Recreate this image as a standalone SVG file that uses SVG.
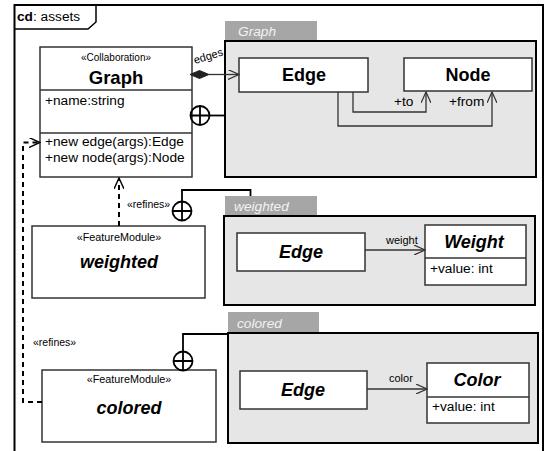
<svg xmlns="http://www.w3.org/2000/svg" width="549" height="451" viewBox="0 0 549 451">
<defs>
<style>
text{font-family:"Liberation Sans",Arial,sans-serif;fill:#000}
.box{fill:#fff;stroke:#333;stroke-width:1.5}
.pkg{fill:#e6e6e6;stroke:#000;stroke-width:2}
.tab{fill:#a6a6a6;stroke:none}
.tabt{font-size:13.7px;font-style:italic;fill:#f2f2f2}
.ln{fill:none;stroke:#333;stroke-width:1.3}
.nest{fill:none;stroke:#000;stroke-width:1.8}
.dash{fill:none;stroke:#000;stroke-width:2;stroke-dasharray:5 4}
.s{font-size:11px}
.r{font-size:10.5px}
.m{font-size:13.7px}
.fm{font-size:10.8px}
.cn{font-size:18px;font-weight:bold;text-anchor:middle}
</style>
<marker id="open" viewBox="0 0 12 10" refX="11" refY="5" markerWidth="12" markerHeight="10" markerUnits="userSpaceOnUse" orient="auto">
<path d="M0,0 L11,5 L0,10" fill="none" stroke="#333" stroke-width="1.2"/>
</marker>
<marker id="openb" viewBox="0 0 12 10" refX="11" refY="5" markerWidth="12" markerHeight="10" markerUnits="userSpaceOnUse" orient="auto">
<path d="M0,0 L11,5 L0,10" fill="none" stroke="#000" stroke-width="1.4"/>
</marker>
</defs>
<rect width="549" height="451" fill="#fff"/>
<g id="frame">
<rect x="14.5" y="5" width="528.5" height="460" fill="none" stroke="#000" stroke-width="2"/>
<path d="M14.5,29 H88 L96,22 V5" fill="none" stroke="#000" stroke-width="1.5"/>
<text x="17" y="21" font-size="13.7"><tspan font-weight="bold">cd</tspan>: assets</text>
</g>
<g id="pkg-graph">
<rect class="tab" x="225" y="21" width="92" height="19"/>
<text class="tabt" x="238" y="36">Graph</text>
<rect class="pkg" x="225" y="41" width="311" height="136"/>
</g>
<g id="pkg-weighted">
<rect class="tab" x="225" y="196" width="92" height="19"/>
<text class="tabt" x="234" y="211">weighted</text>
<rect class="pkg" x="224" y="216" width="311" height="89"/>
</g>
<g id="pkg-colored">
<rect class="tab" x="228" y="312" width="91" height="20"/>
<text class="tabt" x="237" y="328">colored</text>
<rect class="pkg" x="228" y="333" width="310" height="110"/>
</g>
<g id="graph-class">
<rect class="box" x="40" y="47" width="152" height="130"/>
<line class="ln" x1="40" y1="90" x2="192" y2="90"/>
<line class="ln" x1="40" y1="133" x2="192" y2="133"/>
<text x="116" y="61" font-size="10" text-anchor="middle">«Collaboration»</text>
<text x="116" y="84" font-size="18.5" font-weight="bold" text-anchor="middle" fill="#222">Graph</text>
<text x="45" y="105" class="m">+name:string</text>
<text x="45" y="146" class="m">+new edge(args):Edge</text>
<text x="45" y="162" class="m">+new node(args):Node</text>
</g>
<g id="graph-edge">
<rect class="box" x="239" y="58" width="129" height="34"/>
<text x="304" y="81" class="cn" fill="#222">Edge</text>
</g>
<g id="graph-node">
<rect class="box" x="404" y="58" width="128" height="33"/>
<text x="468" y="81" class="cn" fill="#222">Node</text>
</g>
<g id="weighted-edge">
<rect class="box" x="237" y="233" width="128" height="38"/>
<text x="301" y="258" class="cn" font-style="italic">Edge</text>
</g>
<g id="weight-class">
<rect class="box" x="425" y="225" width="101" height="60"/>
<line class="ln" x1="425" y1="258" x2="526" y2="258"/>
<text x="474" y="248" class="cn" font-style="italic">Weight</text>
<text x="430" y="273" class="m">+value: int</text>
</g>
<g id="colored-edge">
<rect class="box" x="240" y="371" width="127" height="38"/>
<text x="303" y="396" class="cn" font-style="italic">Edge</text>
</g>
<g id="color-class">
<rect class="box" x="427" y="363" width="102" height="60"/>
<line class="ln" x1="427" y1="397" x2="529" y2="397"/>
<text x="477" y="386" class="cn" font-style="italic">Color</text>
<text x="432" y="411" class="m">+value: int</text>
</g>
<g id="fm-weighted">
<rect class="box" x="32" y="226" width="173" height="72"/>
<text x="119" y="241" class="fm" text-anchor="middle">«FeatureModule»</text>
<text x="119" y="268" font-size="18" font-weight="bold" font-style="italic" text-anchor="middle">weighted</text>
</g>
<g id="fm-colored">
<rect class="box" x="42" y="370" width="174" height="72"/>
<text x="129" y="383" class="fm" text-anchor="middle">«FeatureModule»</text>
<text x="129" y="414" font-size="18" font-weight="bold" font-style="italic" text-anchor="middle">colored</text>
</g>
<g id="connectors">
<path d="M190,74.5 L199.5,70.5 L209,74.5 L199.5,78.5 Z" fill="#222" stroke="#222" stroke-width="1"/>
<line class="ln" x1="209" y1="74.5" x2="239" y2="74.5" marker-end="url(#open)"/>
<text x="0" y="0" class="s" transform="translate(195,64) rotate(-17)">edges</text>
<path class="ln" d="M353,92 V112 H426 V92" marker-end="url(#open)"/>
<path class="ln" d="M338,92 V126 H492 V92" marker-end="url(#open)"/>
<text x="394" y="106" class="m">+to</text>
<text x="449" y="106" class="m">+from</text>
<line class="ln" x1="365" y1="250" x2="425" y2="250" marker-end="url(#open)"/>
<text x="386" y="244" class="s">weight</text>
<line class="ln" x1="367" y1="389" x2="427" y2="389" marker-end="url(#open)"/>
<text x="389" y="382" class="s">color</text>
<circle class="nest" cx="200" cy="115.5" r="9.5" fill="#fff"/>
<path class="nest" d="M190.5,115.5 H209.5 M200,106 V125"/>
<line class="nest" x1="209.5" y1="115.5" x2="225" y2="115.5"/>
<circle class="nest" cx="182" cy="211" r="9.5"/>
<path class="nest" d="M172.5,211 H191.5 M182,201.5 V220.5"/>
<path class="nest" d="M182,201.5 V190 H250.5 V196"/>
<circle class="nest" cx="183" cy="361" r="9.5"/>
<path class="nest" d="M173.5,361 H192.5 M183,351.5 V370.5"/>
<path class="nest" d="M183,351.5 V334 H228"/>
<path class="dash" d="M119,226 V178" marker-end="url(#openb)"/>
<text x="127" y="208" class="r">«refines»</text>
<path class="dash" d="M42,402 H23 V142.5 H40" marker-end="url(#openb)"/>
<text x="33" y="346" class="r">«refines»</text>
</g>
</svg>
